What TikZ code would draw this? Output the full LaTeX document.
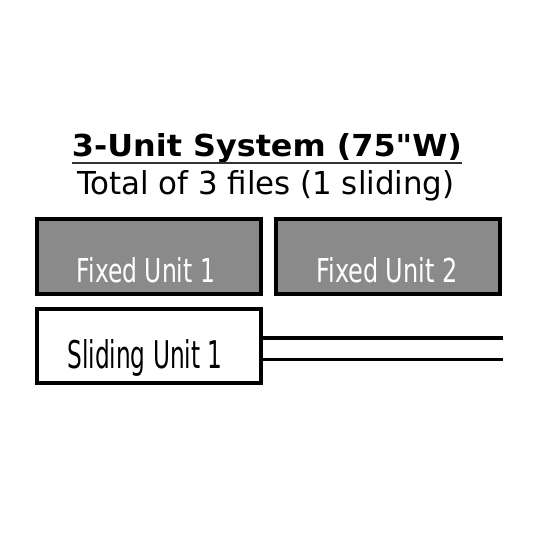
\documentclass[tikz,border=0pt]{standalone}
\usepackage{fontspec}
\setmainfont{DejaVu Sans}
\newfontfamily\titlefont{DejaVu Sans}
\newfontfamily\condfont{DejaVu Sans Condensed}
\definecolor{boxgray}{RGB}{138,138,138}
\begin{document}
\begin{tikzpicture}[x=1pt,y=-1pt,
  unitbox/.style={draw=black,line width=3.5pt},
  fixedbox/.style={unitbox,fill=boxgray},
  railline/.style={draw=black,line cap=butt}]
\useasboundingbox (0,0) rectangle (550,550);
% title
\node[inner sep=0pt,anchor=center] (title) at (267,148)
  {\resizebox{390pt}{23pt}{\titlefont\bfseries 3-Unit System (75"W)}};
\draw[line width=1.3pt,black!80] (72,163) -- (462,163);
\node[inner sep=0pt,anchor=center] (subtitle) at (266,186)
  {\resizebox{377pt}{24pt}{\condfont Total of 3 files (1 sliding)}};
% boxes
\path[fixedbox] (37,219) rectangle (261,294);
\node (f1) at (149,256.5) {};
\path[fixedbox] (276,219) rectangle (500,294);
\node (f2) at (388,256.5) {};
\path[unitbox,fill=white] (37,309) rectangle (261,383);
\node (s1) at (149,346) {};
% labels
\node[inner sep=0pt,text=white] (f1t) at (146,270)
  {\resizebox{138pt}{25pt}{\condfont Fixed Unit 1}};
\node[inner sep=0pt,text=white] (f2t) at (387,270)
  {\resizebox{141pt}{25pt}{\condfont Fixed Unit 2}};
\node[inner sep=0pt,text=black] (s1t) at (145,358)
  {\resizebox{155pt}{29pt}{\condfont Sliding Unit 1}};
% rails
\coordinate (r1a) at (262.75,337.5);
\coordinate (r1b) at (503,337.5);
\coordinate (r2a) at (262.75,359);
\coordinate (r2b) at (503,359);
\draw[railline,line width=4pt] (r1a) -- (r1b);
\draw[railline,line width=3pt] (r2a) -- (r2b);
\end{tikzpicture}
\end{document}
